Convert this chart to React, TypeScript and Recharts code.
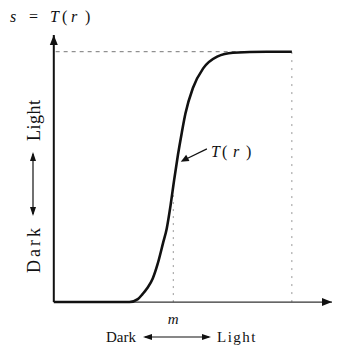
import React from 'react';
import {
  ComposedChart,
  Line,
  XAxis,
  YAxis,
  ReferenceLine,
  ReferenceDot
} from 'recharts';

// 変換関数 s = T(r) のサンプル点
const rValues = [0, 81, 90, 95, 100, 106, 111, 117, 121, 125, 129, 133, 137, 141, 149, 160, 175, 192, 228, 255];
const sValues = [0, 0, 3, 8, 14, 24, 38, 60, 75, 98, 125, 150, 172, 192, 218, 238, 250, 254, 255, 255];

const levelMax = 255; // L-1
const midLevel = 128; // m
const rAxisEnd = 298;
const sAxisEnd = 272;
const labelArrowFrom = { r: 164, s: 156 };
const labelArrowTo = { r: 136, s: 143 };

const curveData = rValues.map((r, i) => ({ r, s: sValues[i] }));

const SERIF = '"Liberation Serif", "DejaVu Serif", serif';

// 矢じり（向きは角度で指定）
const ArrowHead = ({ cx, cy, angle = 0, len = 10, half = 4 }: any) => (
  <path
    d={`M0,0 L${-len},${-half} L${-len},${half} Z`}
    transform={`translate(${cx},${cy}) rotate(${angle})`}
    fill="#111"
  />
);

// 両矢印付きの軸キャプション
const Caption = ({ x, y, rotate = 0, size, darkX, lightX, half, textDy, darkSpacing = 0, lightSpacing = 0 }: any) => (
  <g transform={`translate(${x},${y}) rotate(${rotate})`} fontFamily={SERIF} fontSize={size} fill="#111">
    <text x={darkX} y={textDy} letterSpacing={darkSpacing}>Dark</text>
    <line x1={-half} y1={0} x2={half} y2={0} stroke="#111" strokeWidth={1.2} />
    <path d={`M${-half - 2},0 L${-half + 7},-3 L${-half + 7},3 Z`} fill="#111" />
    <path d={`M${half + 2},0 L${half - 7},-3 L${half - 7},3 Z`} fill="#111" />
    <text x={lightX} y={textDy} letterSpacing={lightSpacing}>Light</text>
  </g>
);

export default function App() {
  return (
    <div style={{ position: 'absolute', left: 0, top: 0, width: 344, height: 354, background: '#fff' }}>
      <ComposedChart
        width={344}
        height={354}
        data={curveData}
        margin={{ top: 35, right: 12, bottom: 19, left: 51 }}
      >
        <XAxis
          type="number"
          dataKey="r"
          domain={[-3, rAxisEnd]}
          ticks={[midLevel]}
          tickFormatter={() => 'm'}
          axisLine={false}
          tickLine={false}
          height={30}
          tick={{ fontFamily: SERIF, fontStyle: 'italic', fontSize: 15, fill: '#111', dy: 0 }}
          allowDataOverflow
        />
        <YAxis type="number" dataKey="s" domain={[-3, sAxisEnd]} hide allowDataOverflow />

        {/* 破線・点線の補助線 */}
        <ReferenceLine
          segment={[{ x: 2, y: levelMax }, { x: levelMax, y: levelMax }]}
          stroke="#777"
          strokeWidth={1}
          strokeDasharray="4 4"
          ifOverflow="visible"
        />
        <ReferenceLine
          segment={[{ x: levelMax, y: 0 }, { x: levelMax, y: levelMax }]}
          stroke="#999"
          strokeWidth={1}
          strokeDasharray="2 6"
          ifOverflow="visible"
        />
        <ReferenceLine
          segment={[{ x: midLevel, y: 0 }, { x: midLevel, y: 117 }]}
          stroke="#999"
          strokeWidth={1}
          strokeDasharray="2 5"
          ifOverflow="visible"
        />

        {/* 座標軸 */}
        <ReferenceLine
          segment={[{ x: 0, y: 0 }, { x: 0, y: sAxisEnd }]}
          stroke="#111"
          strokeWidth={2}
          ifOverflow="visible"
        />
        <ReferenceLine
          segment={[{ x: 0, y: 0 }, { x: rAxisEnd, y: 0 }]}
          stroke="#333"
          strokeWidth={1.2}
          ifOverflow="visible"
        />
        <ReferenceDot x={0} y={sAxisEnd} r={0} ifOverflow="visible" shape={(p: any) => <ArrowHead {...p} angle={-90} />} />
        <ReferenceDot x={rAxisEnd} y={0} r={0} ifOverflow="visible" shape={(p: any) => <ArrowHead {...p} angle={0} />} />

        {/* T(r) のラベル矢印 */}
        <ReferenceLine
          segment={[{ x: labelArrowFrom.r, y: labelArrowFrom.s }, { x: labelArrowTo.r + 3, y: labelArrowTo.s + 1.5 }]}
          stroke="#111"
          strokeWidth={1.2}
          ifOverflow="visible"
        />
        <ReferenceDot
          x={labelArrowTo.r}
          y={labelArrowTo.s}
          r={0}
          ifOverflow="visible"
          shape={(p: any) => <ArrowHead {...p} angle={152} len={8} half={3.5} />}
        />

        <Line
          type="monotone"
          dataKey="s"
          stroke="#111"
          strokeWidth={2.6}
          dot={false}
          isAnimationActive={false}
        />
      </ComposedChart>

      <svg
        width={344}
        height={354}
        style={{ position: 'absolute', left: 0, top: 0, pointerEvents: 'none' }}
      >
        <g fontFamily={SERIF} fontSize={16} fill="#111">
          <text x={10} y={22} fontStyle="italic">s</text>
          <text x={29} y={22}>=</text>
          <text x={50} y={22} fontStyle="italic">T</text>
          <text x={62} y={22}>(</text>
          <text x={71} y={22} fontStyle="italic">r</text>
          <text x={85} y={22}>)</text>

          <text x={211} y={157} fontStyle="italic">T</text>
          <text x={222} y={157}>(</text>
          <text x={233} y={157} fontStyle="italic">r</text>
          <text x={246} y={157}>)</text>
        </g>
        <Caption x={177} y={337} size={15} darkX={-71} lightX={40} half={32} textDy={5} lightSpacing={1.5} />
        <Caption
          x={33}
          y={184}
          rotate={-90}
          size={18}
          darkX={-89}
          lightX={43}
          half={30}
          textDy={7}
          darkSpacing={3}
          lightSpacing={0.5}
        />
      </svg>
    </div>
  );
}
